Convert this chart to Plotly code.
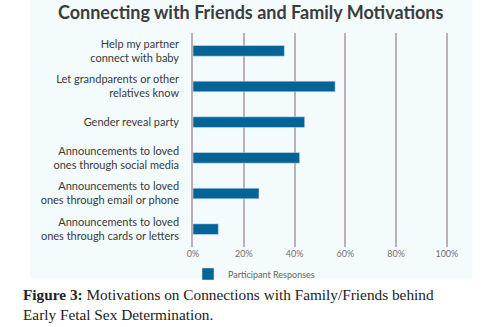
import plotly.graph_objects as go

categories = [
    "Help my partner<br>connect with baby",
    "Let grandparents or other<br>relatives know",
    "Gender reveal party",
    "Announcements to loved<br>ones through social media",
    "Announcements to loved<br>ones through email or phone",
    "Announcements to loved<br>ones through cards or letters",
]
values = [36, 56, 44, 42, 26, 10]
tick_vals = [0, 20, 40, 60, 80, 100]
tick_text = ["0%", "20%", "40%", "60%", "80%", "100%"]
series_name = "Participant Responses"
title_text = "Connecting with Friends and Family Motivations"
caption = ("<b>Figure 3:</b> Motivations on Connections with Family/Friends behind<br>"
           "Early Fetal Sex Determination.")

W, H = 485, 327
L, R, T, B = 193, 28, 33, 80
pw, ph = W - L - R, H - T - B

def px(x):
    return (x - L) / pw

def py(y):
    return (H - B - y) / ph

fig = go.Figure()
fig.add_trace(go.Bar(
    x=values, y=categories, orientation="h", name=series_name,
    marker=dict(color="#036597"), width=0.3, showlegend=True,
))

fig.update_layout(
    width=W, height=H,
    margin=dict(l=L, r=R, t=T, b=B),
    paper_bgcolor="white", plot_bgcolor="rgba(0,0,0,0)",
    xaxis=dict(range=[0, 104], tickvals=tick_vals, ticktext=tick_text,
               showgrid=True, gridcolor="#bcb0b6", gridwidth=1.5,
               zeroline=False, showline=False,
               tickfont=dict(family="Lato", size=9, color="#7a6d74")),
    yaxis=dict(autorange="reversed", showgrid=False, showline=True,
               linecolor="#bcb0b6", linewidth=1.5, ticks="",
               ticklabelstandoff=10,
               tickfont=dict(family="Lato", size=11, color="#3a3a3a")),
    legend=dict(orientation="h", x=px(188), y=py(274), xanchor="left", yanchor="middle",
                itemwidth=30,
                font=dict(family="Lato", size=9, color="#666666"),
                bgcolor="rgba(0,0,0,0)"),
    shapes=[dict(type="rect", xref="paper", yref="paper",
                 x0=px(30), x1=px(472), y0=py(278), y1=py(0),
                 fillcolor="#f3fbfd", line=dict(width=0), layer="below")],
    annotations=[
        dict(text="<b>" + title_text + "</b>", xref="paper", yref="paper",
             x=px(251), y=py(12), xanchor="center", yanchor="middle", showarrow=False,
             font=dict(family="Lato", size=18, color="#3c3c3c")),
        dict(text=caption, xref="paper", yref="paper", x=px(21), y=py(284),
             xanchor="left", yanchor="top", align="left", showarrow=False,
             font=dict(family="Liberation Serif", size=15.3, color="#222222")),
    ],
)

fig.write_html("out.html")
